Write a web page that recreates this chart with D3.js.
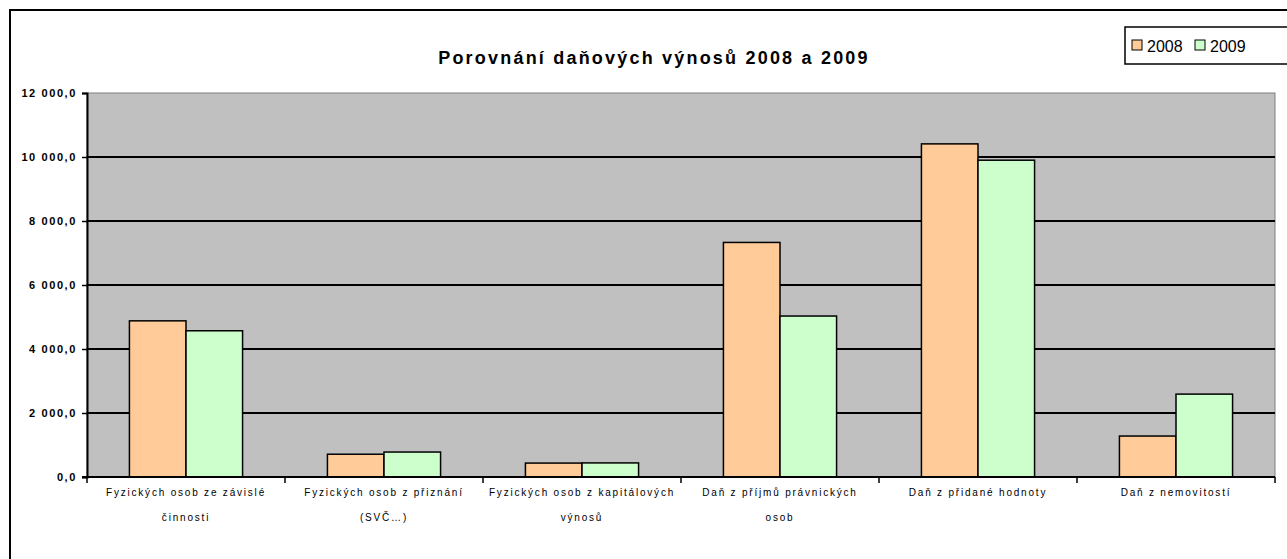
<!DOCTYPE html>
<html>
<head>
<meta charset="utf-8">
<script src="https://cdn.jsdelivr.net/npm/d3@7"></script>
<style>
  body { margin: 0; background: #fff; }
  svg { display: block; }
</style>
</head>
<body>
<svg class="chart" width="1287" height="559"></svg>
<script>
var categories = [
  "Fyzických osob ze závislé\nčinnosti",
  "Fyzických osob z přiznání\n(SVČ…)",
  "Fyzických osob z kapitálových\nvýnosů",
  "Daň z příjmů právnických\nosob",
  "Daň z přidané hodnoty",
  "Daň z nemovitostí"
]
var years = ["2008", "2009"]
var values2008 = [4880, 712, 435, 7330, 10410, 1280]
var values2009 = [4570, 780, 440, 5030, 9900, 2590]
var yTicks = [0, 2000, 4000, 6000, 8000, 10000, 12000]

var colors = { "2008": "#ffcc99", "2009": "#ccffcc" }

var svg = d3.select(".chart")
var plot = { left: 87, right: 1275, top: 93, bottom: 477 }

// outer chart frame
svg.append("rect")
  .attr("x", 10).attr("y", 10)
  .attr("width", 1300).attr("height", 600)
  .attr("fill", "#fff")
  .attr("stroke", "#000")
  .attr("stroke-width", 2)

var x = d3.scaleBand().domain(d3.range(categories.length))
  .range([plot.left, plot.right]).padding(0)
var xs = d3.scaleBand().domain(years)
  .range([0, x.bandwidth()]).paddingInner(0).paddingOuter(0.75)
var y = d3.scaleLinear().domain([0, 12000]).range([plot.bottom, plot.top])

// plot area
svg.append("rect")
  .attr("x", plot.left).attr("y", plot.top)
  .attr("width", plot.right - plot.left).attr("height", plot.bottom - plot.top)
  .attr("fill", "#c0c0c0")
  .attr("stroke", "#808080")
  .attr("stroke-width", 1)

// gridlines
svg.append("g").selectAll("line")
  .data(yTicks.slice(1, -1))
  .enter().append("line")
  .attr("x1", plot.left).attr("x2", plot.right)
  .attr("y1", function(d) { return y(d) }).attr("y2", function(d) { return y(d) })
  .attr("stroke", "#000").attr("stroke-width", 2)

// bars
var series = years.map(function(yr, i) {
  var vals = i === 0 ? values2008 : values2009
  return vals.map(function(v, j) { return { year: yr, cat: j, value: v } })
})

var groups = svg.append("g").selectAll("g")
  .data(series).enter().append("g")

groups.selectAll("rect")
  .data(function(d) { return d })
  .enter().append("rect")
  .attr("x", function(d) { return x(d.cat) + xs(d.year) })
  .attr("y", function(d) { return y(d.value) })
  .attr("width", xs.bandwidth())
  .attr("height", function(d) { return y(0) - y(d.value) })
  .attr("fill", function(d) { return colors[d.year] })
  .attr("stroke", "#000")
  .attr("stroke-width", 1.5)

// y axis
var yAxis = svg.append("g")
  .attr("transform", "translate(" + plot.left + ",0)")
  .call(d3.axisLeft(y).tickValues(yTicks).tickSize(5).tickPadding(5)
    .tickFormat(function(d) { return d3.format(",.1f")(d).replace(/,/g, " ").replace(".", ",") }))
yAxis.select(".domain").attr("stroke", "#000").attr("stroke-width", 2)
yAxis.selectAll(".tick line").attr("stroke", "#000").attr("stroke-width", 1.5)
yAxis.selectAll("text")
  .attr("fill", "#000")
  .style("font-family", "'Liberation Sans', Arial, sans-serif")
  .style("font-size", "11px")
  .style("font-weight", "bold")
  .style("letter-spacing", "1.6px")

// x axis
var xAxis = svg.append("g")
  .attr("transform", "translate(0," + plot.bottom + ")")
xAxis.append("line")
  .attr("x1", plot.left - 5).attr("x2", plot.right)
  .attr("stroke", "#000").attr("stroke-width", 2)
xAxis.selectAll(".ctick")
  .data(d3.range(categories.length + 1))
  .enter().append("line")
  .attr("class", "ctick")
  .attr("x1", function(d) { return plot.left + d * x.step() })
  .attr("x2", function(d) { return plot.left + d * x.step() })
  .attr("y1", 0).attr("y2", 6)
  .attr("stroke", "#000").attr("stroke-width", 1.5)

xAxis.selectAll(".clabel")
  .data(categories)
  .enter().append("text")
  .attr("class", "clabel")
  .attr("x", function(d, i) { return x(i) + x.bandwidth() / 2 })
  .attr("y", 19)
  .attr("text-anchor", "middle")
  .style("font-family", "'Liberation Sans', Arial, sans-serif")
  .style("font-size", "10px")
  .style("letter-spacing", "1.8px")
  .attr("fill", "#000")
  .each(function(d) {
    var t = d3.select(this)
    d.split("\n").forEach(function(line, k) {
      t.append("tspan")
        .attr("x", t.attr("x"))
        .attr("dy", k === 0 ? 0 : 25)
        .text(line)
    })
  })

// title
svg.append("text")
  .attr("x", 654).attr("y", 64)
  .attr("text-anchor", "middle")
  .style("font-family", "'Liberation Sans', Arial, sans-serif")
  .style("font-size", "18px")
  .style("font-weight", "bold")
  .style("letter-spacing", "2.2px")
  .attr("fill", "#000")
  .text("Porovnání daňových výnosů 2008 a 2009")

// legend
var legend = svg.append("g").attr("transform", "translate(1125,27)")
legend.append("rect")
  .attr("width", 180).attr("height", 37)
  .attr("fill", "#fff").attr("stroke", "#000").attr("stroke-width", 1.5)

var items = legend.selectAll(".item")
  .data(years).enter().append("g")
  .attr("class", "item")
  .attr("transform", function(d, i) { return "translate(" + (7 + i * 63) + ",0)" })
items.append("rect")
  .attr("y", 13).attr("width", 10).attr("height", 10)
  .attr("fill", function(d) { return colors[d] })
  .attr("stroke", "#000").attr("stroke-width", 1)
items.append("text")
  .attr("x", 15).attr("y", 25)
  .style("font-family", "'Liberation Sans', Arial, sans-serif")
  .style("font-size", "16px")
  .attr("fill", "#000")
  .text(function(d) { return d })
</script>
</body>
</html>
